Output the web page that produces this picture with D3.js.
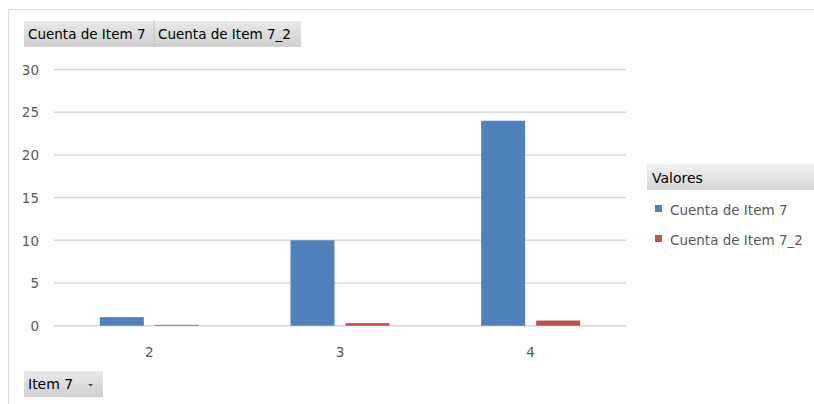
<!DOCTYPE html>
<html><head><meta charset="utf-8">
<script src="https://cdn.jsdelivr.net/npm/d3@7"></script>
<style>
html,body{margin:0;padding:0;background:#fff;}
svg{display:block;font-family:"DejaVu Sans",Tahoma,sans-serif;}
</style></head>
<body><svg id="c" width="814" height="404"></svg>
<script>
const categories = ["2", "3", "4"];
const seriesNames = ["Cuenta de Item 7", "Cuenta de Item 7_2"];
const item7 = [1, 10, 24];
const item7_2 = [0.1, 0.3, 0.6];
const yTicks = [0, 5, 10, 15, 20, 25, 30];
const colors = ["#4f81bd", "#c0504d"];
const legendTitle = "Valores";
const fieldButton = "Item 7";

const svg = d3.select("#c");
const defs = svg.append("defs");
const g1 = defs.append("linearGradient").attr("id","btn").attr("x1",0).attr("y1",0).attr("x2",0).attr("y2",1);
g1.append("stop").attr("offset","0%").attr("stop-color","#e9e9e9");
g1.append("stop").attr("offset","100%").attr("stop-color","#cfcfcf");
const g2 = defs.append("linearGradient").attr("id","leg").attr("x1",0).attr("y1",0).attr("x2",0).attr("y2",1);
g2.append("stop").attr("offset","0%").attr("stop-color","#f2f2f2");
g2.append("stop").attr("offset","100%").attr("stop-color","#d4d4d4");

// chart area border
svg.append("line").attr("x1",8.5).attr("x2",814).attr("y1",9.5).attr("y2",9.5).attr("stroke","#d9d9d9");
svg.append("line").attr("x1",8.5).attr("x2",8.5).attr("y1",9.5).attr("y2",404).attr("stroke","#d9d9d9");

const x = d3.scaleBand().domain(categories).range([54, 626]);
const y = d3.scaleLinear().domain([0, 30]).range([325.7, 69.5]);

// gridlines
svg.append("g").selectAll("line").data(yTicks).join("line")
  .attr("x1",54).attr("x2",626)
  .attr("y1",d=>y(d)).attr("y2",d=>y(d))
  .attr("stroke","#d9d9d9").attr("stroke-width",1.5);

// y axis labels
const yAxis = d3.axisLeft(y).tickValues(yTicks).tickSize(0).tickPadding(0);
const ya = svg.append("g").attr("transform","translate(39,0)").call(yAxis);
ya.select(".domain").remove();
ya.selectAll("text").attr("fill","#595959").attr("font-size","13.5px").attr("dy","0.35em")
  .attr("font-family","'DejaVu Sans',sans-serif");

// x axis labels
const xAxis = d3.axisBottom(x).tickSize(0).tickPadding(0);
const xa = svg.append("g").attr("transform","translate(0,352)").call(xAxis);
xa.select(".domain").remove();
xa.selectAll("text").attr("fill","#595959").attr("font-size","13.5px").attr("dy","0.35em")
  .attr("font-family","'DejaVu Sans',sans-serif");

// bars
const barW = 44, gap = 11;
const inner = d3.scaleOrdinal().domain([0,1]).range([-(barW+gap/2), gap/2]);
const series = [item7, item7_2];
series.forEach((vals, si) => {
  svg.append("g").selectAll("rect").data(vals).join("rect")
    .attr("x",(d,i)=>x(categories[i]) + x.bandwidth()/2 + inner(si))
    .attr("width",barW)
    .attr("y",d=>y(d))
    .attr("height",d=>y(0)-y(d))
    .attr("fill",colors[si]);
});

// top field buttons
const btnY = 21, btnH = 26;
const btns = [{t:seriesNames[0], x:24, w:130},{t:seriesNames[1], x:154, w:147}];
const bg = svg.append("g");
bg.selectAll("rect").data(btns).join("rect")
  .attr("x",d=>d.x).attr("y",btnY).attr("width",d=>d.w).attr("height",btnH)
  .attr("fill","url(#btn)");
bg.append("line").attr("x1",154).attr("x2",154).attr("y1",btnY).attr("y2",btnY+btnH).attr("stroke","#c4c4c4");
bg.selectAll("text").data(btns).join("text")
  .attr("x",d=>d.x+4).attr("y",btnY+17.5)
  .attr("font-size","13.5px").attr("fill","#000")
  .attr("font-family","'DejaVu Sans',sans-serif")
  .text(d=>d.t);

// bottom field button
const bb = svg.append("g");
bb.append("rect").attr("x",24).attr("y",371).attr("width",79).attr("height",26).attr("fill","url(#btn)");
bb.append("text").attr("x",28).attr("y",389).attr("font-size","14px").attr("fill","#000")
  .attr("font-family","'DejaVu Sans',sans-serif").text(fieldButton);
bb.append("path").attr("d","M88,384 l5,0 l-2.5,2.5 z").attr("fill","#444");

// legend
const lg = svg.append("g");
lg.append("rect").attr("x",647).attr("y",164).attr("width",167).attr("height",26).attr("fill","url(#leg)");
lg.append("text").attr("x",652).attr("y",183).attr("font-size","14px").attr("fill","#000")
  .attr("font-family","'DejaVu Sans',sans-serif").text(legendTitle);
const items = lg.selectAll("g.it").data(seriesNames).join("g").attr("class","it")
  .attr("transform",(d,i)=>`translate(655,${205 + i*30})`);
items.append("rect").attr("width",7).attr("height",7).attr("fill",(d,i)=>colors[i]);
items.append("text").attr("x",15).attr("y",9.5).attr("font-size","13.5px").attr("fill","#595959")
  .attr("font-family","'DejaVu Sans',sans-serif").text(d=>d);
</script></body></html>
